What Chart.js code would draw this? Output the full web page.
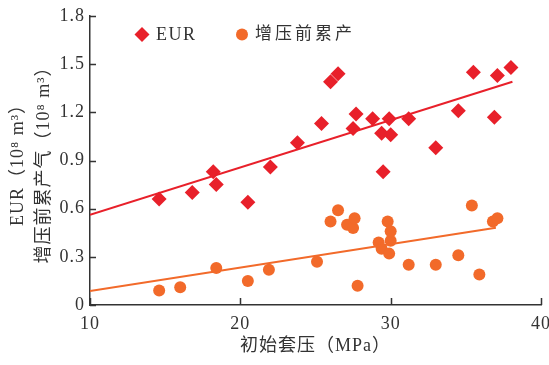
<!DOCTYPE html>
<html>
<head>
<meta charset="utf-8">
<script src="https://cdn.jsdelivr.net/npm/chart.js@4.4.1/dist/chart.umd.min.js"></script>
<style>
  html, body { margin: 0; padding: 0; background: #fff; }
  #wrap { width: 549px; height: 365px; }
</style>
</head>
<body>
<div id="wrap"><canvas id="c" width="549" height="365"></canvas></div>
<script>
// Initial casing pressure (MPa) vs. EUR and pre-boost cumulative production (10^8 m^3)
const eurX = [14.6, 16.8, 18.2, 18.4, 20.5, 22.0, 23.8, 25.4, 26.0, 26.5, 27.5, 27.7, 28.8, 29.4, 29.5, 29.9, 30.0, 31.2, 33.0, 34.5, 35.5, 36.9, 37.1, 38.0];
const eurY = [0.66, 0.70, 0.83, 0.75, 0.64, 0.86, 1.01, 1.13, 1.39, 1.44, 1.10, 1.19, 1.16, 1.07, 0.83, 1.16, 1.06, 1.16, 0.98, 1.21, 1.45, 1.17, 1.43, 1.48];

const preX = [14.6, 16.0, 18.4, 20.5, 21.9, 25.1, 26.0, 26.5, 27.1, 27.5, 27.6, 27.8, 29.2, 29.4, 29.8, 30.0, 30.0, 29.9, 31.2, 33.0, 34.5, 35.4, 35.9, 36.8, 37.1];
const preY = [0.09, 0.11, 0.23, 0.15, 0.22, 0.27, 0.52, 0.59, 0.50, 0.48, 0.54, 0.12, 0.39, 0.35, 0.52, 0.40, 0.46, 0.32, 0.25, 0.25, 0.31, 0.62, 0.19, 0.52, 0.54];

// Linear trend lines (endpoints)
const eurFitX = [10, 38.1];
const eurFitY = [0.562, 1.39];
const preFitX = [10, 37.0];
const preFitY = [0.087, 0.481];

const xTicks = [10, 20, 30, 40];
const yTicks = [0, 0.3, 0.6, 0.9, 1.2, 1.5, 1.8];

const seriesNames = ['EUR', '增压前累产'];
const xTitle = '初始套压（MPa）';
const yTitle = ['EUR（10⁸ m³）', '增压前累产气（10⁸ m³）'];

const RED = '#e8202a';
const ORANGE = '#f26a2a';
const AXIS = '#333333';
const FONT = '"Liberation Serif", "Noto Sans CJK SC", serif';

const pts = (xs, ys) => xs.map((x, i) => ({ x: x, y: ys[i] }));

// Slightly open letter spacing for all canvas text
const spacing = {
  id: 'spacing',
  beforeDraw(chart) {
    if ('letterSpacing' in chart.ctx) chart.ctx.letterSpacing = '1px';
  }
};

// Inward tick marks on both axes
const inwardTicks = {
  id: 'inwardTicks',
  afterDraw(chart) {
    const { ctx, scales: { x, y }, chartArea: a } = chart;
    ctx.save();
    ctx.strokeStyle = AXIS;
    ctx.lineWidth = 1.5;
    ctx.beginPath();
    yTicks.forEach(v => {
      const py = Math.round(y.getPixelForValue(v)) + 0.5;
      ctx.moveTo(a.left, py);
      ctx.lineTo(a.left + 6, py);
    });
    xTicks.forEach(v => {
      const px = Math.round(x.getPixelForValue(v)) + 0.5;
      ctx.moveTo(px, a.bottom);
      ctx.lineTo(px, a.bottom - 7);
    });
    ctx.stroke();
    ctx.restore();
  }
};

// Legend row inside the plot
const innerLegend = {
  id: 'innerLegend',
  afterDraw(chart) {
    const { ctx } = chart;
    ctx.save();
    ctx.textBaseline = 'middle';
    // diamond
    ctx.fillStyle = RED;
    ctx.beginPath();
    const dx = 142, dy = 34.5, r = 7.5;
    ctx.moveTo(dx, dy - r); ctx.lineTo(dx + r, dy); ctx.lineTo(dx, dy + r); ctx.lineTo(dx - r, dy);
    ctx.closePath(); ctx.fill();
    ctx.fillStyle = '#333';
    ctx.font = '18px ' + FONT;
    if ('letterSpacing' in ctx) ctx.letterSpacing = '1.5px';
    ctx.fillText(seriesNames[0], 156, 35);
    // circle
    ctx.fillStyle = ORANGE;
    ctx.beginPath();
    ctx.arc(242, 34.5, 6, 0, Math.PI * 2);
    ctx.fill();
    ctx.fillStyle = '#333';
    ctx.font = '17px ' + FONT;
    if ('letterSpacing' in ctx) ctx.letterSpacing = '3px';
    ctx.fillText(seriesNames[1], 255, 35);
    ctx.restore();
  }
};

new Chart(document.getElementById('c'), {
  type: 'scatter',
  data: {
    datasets: [
      {
        label: seriesNames[0],
        data: pts(eurX, eurY),
        pointStyle: 'rectRot',
        pointRadius: 7.5,
        backgroundColor: RED,
        borderColor: RED,
        borderWidth: 0,
        order: 2
      },
      {
        label: seriesNames[1],
        data: pts(preX, preY),
        pointStyle: 'circle',
        pointRadius: 6,
        backgroundColor: ORANGE,
        borderColor: ORANGE,
        borderWidth: 0,
        order: 2
      },
      {
        type: 'line',
        data: pts(eurFitX, eurFitY),
        borderColor: RED,
        borderWidth: 2,
        pointRadius: 0,
        fill: false,
        order: 1
      },
      {
        type: 'line',
        data: pts(preFitX, preFitY),
        borderColor: ORANGE,
        borderWidth: 2,
        pointRadius: 0,
        fill: false,
        order: 1
      }
    ]
  },
  options: {
    responsive: false,
    animation: false,
    devicePixelRatio: 1,
    layout: { padding: { left: 0, right: 8, top: 16, bottom: 0 } },
    plugins: {
      legend: { display: false },
      tooltip: { enabled: false }
    },
    scales: {
      x: {
        type: 'linear',
        min: 10, max: 40,
        afterBuildTicks: s => { s.ticks = xTicks.map(v => ({ value: v })); },
        afterFit: s => { s.height = 60; s.paddingLeft = 0; s.paddingRight = 0; },
        grid: { display: false, drawTicks: false },
        border: { display: true, color: AXIS, width: 1.5 },
        ticks: {
          color: '#333',
          padding: 8,
          maxRotation: 0,
          font: { family: FONT, size: 18 }
        },
        title: {
          display: true,
          text: xTitle,
          color: '#333',
          font: { family: FONT, size: 18 },
          padding: { top: 0, bottom: 8 }
        }
      },
      y: {
        type: 'linear',
        min: 0, max: 1.8,
        afterBuildTicks: s => { s.ticks = yTicks.map(v => ({ value: v })); },
        afterFit: s => { s.width = 90; s.paddingTop = 0; s.paddingBottom = 0; },
        grid: { display: false, drawTicks: false },
        border: { display: true, color: AXIS, width: 1.5 },
        ticks: {
          color: '#333',
          padding: 5,
          font: { family: FONT, size: 18 },
          callback: v => (v === 0 ? '0' : v.toFixed(1))
        },
        title: {
          display: true,
          text: yTitle,
          color: '#333',
          font: { family: FONT, size: 18, lineHeight: 1.4 },
          padding: { top: 6, bottom: 0 }
        }
      }
    }
  },
  plugins: [spacing, inwardTicks, innerLegend]
});
</script>
</body>
</html>
